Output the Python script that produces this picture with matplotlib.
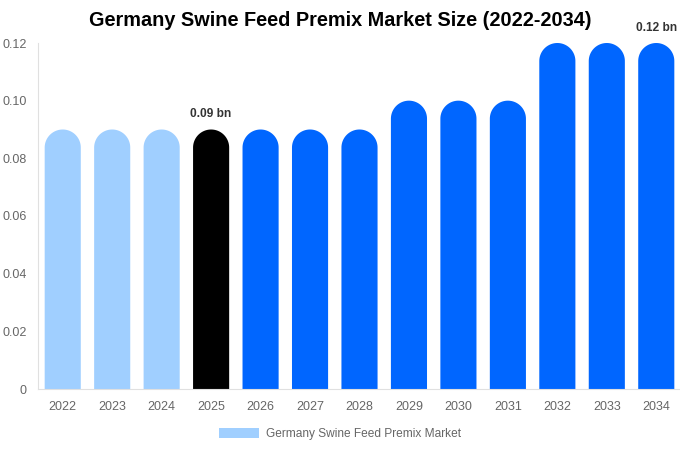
import matplotlib
matplotlib.use("Agg")
import numpy as np
import matplotlib.pyplot as plt
from matplotlib.patches import PathPatch, Patch
from matplotlib.path import Path

years = ["2022", "2023", "2024", "2025", "2026", "2027", "2028",
         "2029", "2030", "2031", "2032", "2033", "2034"]
values = [0.09, 0.09, 0.09, 0.09, 0.09, 0.09, 0.09,
          0.10, 0.10, 0.10, 0.12, 0.12, 0.12]
colors = ["#a0cfff"] * 3 + ["#000000"] + ["#0066ff"] * 9
yticks = [0, 0.02, 0.04, 0.06, 0.08, 0.10, 0.12]
ytick_labels = ["0", "0.02", "0.04", "0.06", "0.08", "0.10", "0.12"]
annotations = {3: "0.09 bn", 12: "0.12 bn"}
legend_label = "Germany Swine Feed Premix Market"
title = "Germany Swine Feed Premix Market Size (2022-2034)"

plt.rcParams['font.family'] = ['Liberation Sans', 'DejaVu Sans']

fig = plt.figure(figsize=(6.8, 4.5), dpi=100)
ax = fig.add_axes([38/680, 61/450, 643/680, 346/450])
ax.set_xlim(-0.5, len(years) - 0.5)
ax.set_ylim(0, 0.12)

bw = 0.73
fig.canvas.draw()
p0 = ax.transData.transform((0, 0))
p1 = ax.transData.transform((bw, 0.12))
bar_px = p1[0] - p0[0]
y_per_px = 0.12 / (p1[1] - p0[1])
r_y = (bar_px / 2) * y_per_px

t = np.linspace(0, np.pi, 60)
x = list(range(len(years)))
for xi, v, c in zip(x, values, colors):
    cy = v - r_y
    verts = [(xi - bw / 2, 0), (xi + bw / 2, 0), (xi + bw / 2, cy)]
    verts += [(xi + bw / 2 * np.cos(a), cy + r_y * np.sin(a)) for a in t]
    verts += [(xi - bw / 2, cy), (xi - bw / 2, 0)]
    codes = [Path.MOVETO] + [Path.LINETO] * (len(verts) - 2) + [Path.CLOSEPOLY]
    ax.add_patch(PathPatch(Path(verts, codes), facecolor=c, edgecolor='none'))

for i, txt in annotations.items():
    ax.text(x[i], values[i] + 0.0032, txt, ha='center', va='bottom',
            fontsize=8.6, fontweight='bold', color='#333333', clip_on=False)

ax.set_xticks(x)
ax.set_xticklabels(years, fontsize=9, color='#666666')
ax.set_yticks(yticks)
ax.set_yticklabels(ytick_labels, fontsize=9, color='#666666')
ax.tick_params(axis='both', length=0)
ax.tick_params(axis='y', pad=8)
ax.tick_params(axis='x', pad=9)
for s in ['top', 'right']:
    ax.spines[s].set_visible(False)
ax.spines['left'].set_color('#e0e0e0')
ax.spines['bottom'].set_color('#e0e0e0')

fig.text(0.5, 1 - 21/450, title, ha='center', va='center',
         fontsize=14.3, fontweight='bold', color='#000000')

handle = Patch(facecolor='#a0cfff', edgecolor='none')
fig.legend([handle], [legend_label], loc='center', bbox_to_anchor=(0.5, 1 - 434/450),
           frameon=False, fontsize=8.6, labelcolor='#666666',
           handlelength=3.3, handleheight=1.0, handletextpad=0.6)

fig.savefig("out.png", dpi=100)
